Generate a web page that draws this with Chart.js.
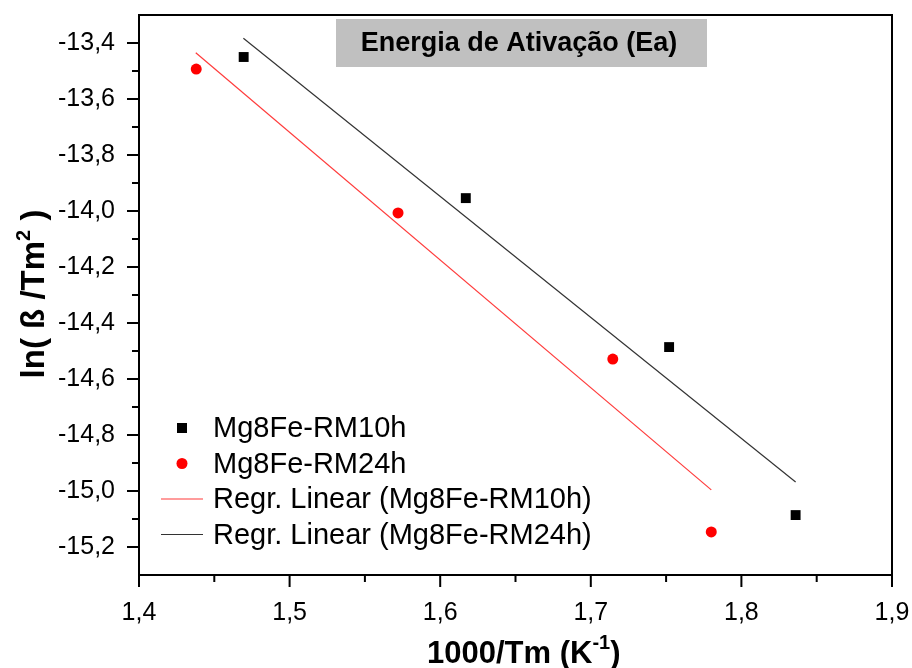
<!DOCTYPE html>
<html>
<head>
<meta charset="utf-8">
<script src="https://cdn.jsdelivr.net/npm/chart.js@4.4.1/dist/chart.umd.min.js"></script>
<style>
html, body { margin: 0; padding: 0; background: #fff; }
#wrap { width: 912px; height: 668px; }
</style>
</head>
<body>
<div id="wrap"><canvas id="ea-chart"></canvas></div>
<script>
// ln(beta/Tm^2) against 1000/Tm for both milling times
const rm10X = [1.4695, 1.617, 1.752, 1.836];
const rm10Y = [-13.45, -13.954, -14.486, -15.086];
const rm24X = [1.438, 1.572, 1.7146, 1.780];
const rm24Y = [-13.493, -14.007, -14.529, -15.146];

// linear regression end points
const fitRedX = [1.4377, 1.780];
const fitRedY = [-13.435, -14.996];
const fitBlackX = [1.4693, 1.836];
const fitBlackY = [-13.383, -14.968];

const xTicks = [1.4, 1.5, 1.6, 1.7, 1.8, 1.9];
const xMinorTicks = [1.45, 1.55, 1.65, 1.75, 1.85];
const yTicks = [-15.2, -15.0, -14.8, -14.6, -14.4, -14.2, -14.0, -13.8, -13.6, -13.4];
const yMinorTicks = [-15.1, -14.9, -14.7, -14.5, -14.3, -14.1, -13.9, -13.7, -13.5];

const labels = ['Mg8Fe-RM10h', 'Mg8Fe-RM24h', 'Regr. Linear (Mg8Fe-RM10h)', 'Regr. Linear (Mg8Fe-RM24h)'];
const chartTitle = 'Energia de Ativação (Ea)';

const FONT = '"Liberation Sans", Arial, sans-serif';

function pts(xs, ys) {
    return xs.map((x, i) => ({ x: x, y: ys[i] }));
}
function comma(v) {
    return Number(v).toFixed(1).replace('.', ',');
}

// draws text pieces in a row, some raised as superscripts
function drawParts(ctx, parts, x, y) {
    parts.forEach(p => {
        ctx.font = p[1] + FONT;
        ctx.fillText(p[0], x, y + p[2]);
        x += ctx.measureText(p[0]).width;
    });
}
function partsWidth(ctx, parts) {
    let w = 0;
    parts.forEach(p => { ctx.font = p[1] + FONT; w += ctx.measureText(p[0]).width; });
    return w;
}

// frame, ticks, title box, legend and axis titles
const decorations = {
    id: 'decorations',
    afterDraw(chart) {
        const ctx = chart.ctx;
        const a = chart.chartArea;
        const xs = chart.scales.x;
        const ys = chart.scales.y;
        ctx.save();

        // title box
        ctx.fillStyle = '#c0c0c0';
        ctx.fillRect(336, 19, 371, 48);
        ctx.fillStyle = '#000';
        ctx.font = 'bold 27px ' + FONT;
        ctx.textAlign = 'center';
        ctx.textBaseline = 'middle';
        ctx.fillText(chartTitle, 519, 44);

        // frame
        ctx.strokeStyle = '#000';
        ctx.lineWidth = 2;
        ctx.strokeRect(a.left, a.top, a.right - a.left, a.bottom - a.top);

        // tick marks
        ctx.beginPath();
        xTicks.forEach(v => {
            const p = xs.getPixelForValue(v);
            ctx.moveTo(p, a.bottom); ctx.lineTo(p, a.bottom + 12);
        });
        xMinorTicks.forEach(v => {
            const p = xs.getPixelForValue(v);
            ctx.moveTo(p, a.bottom); ctx.lineTo(p, a.bottom + 7);
        });
        yTicks.forEach(v => {
            const p = ys.getPixelForValue(v);
            ctx.moveTo(a.left, p); ctx.lineTo(a.left - 12, p);
        });
        yMinorTicks.forEach(v => {
            const p = ys.getPixelForValue(v);
            ctx.moveTo(a.left, p); ctx.lineTo(a.left - 7, p);
        });
        ctx.stroke();

        // legend
        ctx.font = '29px ' + FONT;
        ctx.textAlign = 'left';
        ctx.textBaseline = 'middle';
        chart.data.datasets.forEach((ds, i) => {
            const y = 428 + i * 35.5;
            if (ds.showLine) {
                ctx.strokeStyle = ds.borderColor;
                ctx.lineWidth = 1.2;
                ctx.beginPath();
                ctx.moveTo(161, y); ctx.lineTo(203, y);
                ctx.stroke();
            } else {
                ctx.fillStyle = ds.pointBackgroundColor;
                if (ds.pointStyle === 'rect') {
                    ctx.fillRect(177, y - 5, 10, 10);
                } else {
                    ctx.beginPath();
                    ctx.arc(182, y, 5.5, 0, Math.PI * 2);
                    ctx.fill();
                }
            }
            ctx.fillStyle = '#000';
            ctx.fillText(ds.label, 213, y + 1);
        });

        // x axis title with superscript
        ctx.textBaseline = 'alphabetic';
        drawParts(ctx, [['1000/Tm (K', 'bold 31px ', 0], ['-1', 'bold 20px ', -14], [')', 'bold 31px ', 0]], 427, 663);

        // y axis title, rotated
        ctx.translate(44, 294);
        ctx.rotate(-Math.PI / 2);
        const yparts = [['ln( ß /Tm', 'bold 33px ', 0], ['2', 'bold 20px ', -14], [' )', 'bold 33px ', 0]];
        drawParts(ctx, yparts, -partsWidth(ctx, yparts) / 2, 0);
        ctx.restore();
    }
};

new Chart(document.getElementById('ea-chart'), {
    type: 'scatter',
    data: {
        datasets: [
            {
                label: labels[0],
                data: pts(rm10X, rm10Y),
                pointStyle: 'rect',
                pointRadius: 7,
                pointBackgroundColor: '#000',
                pointBorderWidth: 0,
                showLine: false
            },
            {
                label: labels[1],
                data: pts(rm24X, rm24Y),
                pointStyle: 'circle',
                pointRadius: 5.5,
                pointBackgroundColor: '#ff0000',
                pointBorderWidth: 0,
                showLine: false
            },
            {
                label: labels[2],
                data: pts(fitRedX, fitRedY),
                showLine: true,
                borderColor: '#ff3b3b',
                borderWidth: 1.2,
                pointRadius: 0
            },
            {
                label: labels[3],
                data: pts(fitBlackX, fitBlackY),
                showLine: true,
                borderColor: '#333',
                borderWidth: 1.2,
                pointRadius: 0
            }
        ]
    },
    options: {
        responsive: true,
        maintainAspectRatio: false,
        animation: false,
        events: [],
        layout: { padding: { top: 15, right: 20, left: 0, bottom: 0 } },
        plugins: {
            legend: { display: false },
            tooltip: { enabled: false }
        },
        scales: {
            x: {
                type: 'linear',
                min: 1.4,
                max: 1.9,
                grid: { display: false },
                border: { display: false },
                afterBuildTicks: s => { s.ticks = xTicks.map(v => ({ value: v })); },
                afterFit: s => { s.height = 93; s.paddingLeft = 0; s.paddingRight = 0; },
                ticks: {
                    padding: 15,
                    color: '#000',
                    font: { family: FONT, size: 25 },
                    maxRotation: 0,
                    autoSkip: false,
                    callback: v => comma(v)
                }
            },
            y: {
                type: 'linear',
                min: -15.3,
                max: -13.3,
                grid: { display: false },
                border: { display: false },
                afterBuildTicks: s => { s.ticks = yTicks.map(v => ({ value: v })); },
                afterFit: s => { s.width = 139; s.paddingTop = 0; s.paddingBottom = 0; },
                ticks: {
                    padding: 16,
                    color: '#000',
                    font: { family: FONT, size: 25 },
                    autoSkip: false,
                    callback: v => comma(v)
                }
            }
        }
    },
    plugins: [decorations]
});
</script>
</body>
</html>
